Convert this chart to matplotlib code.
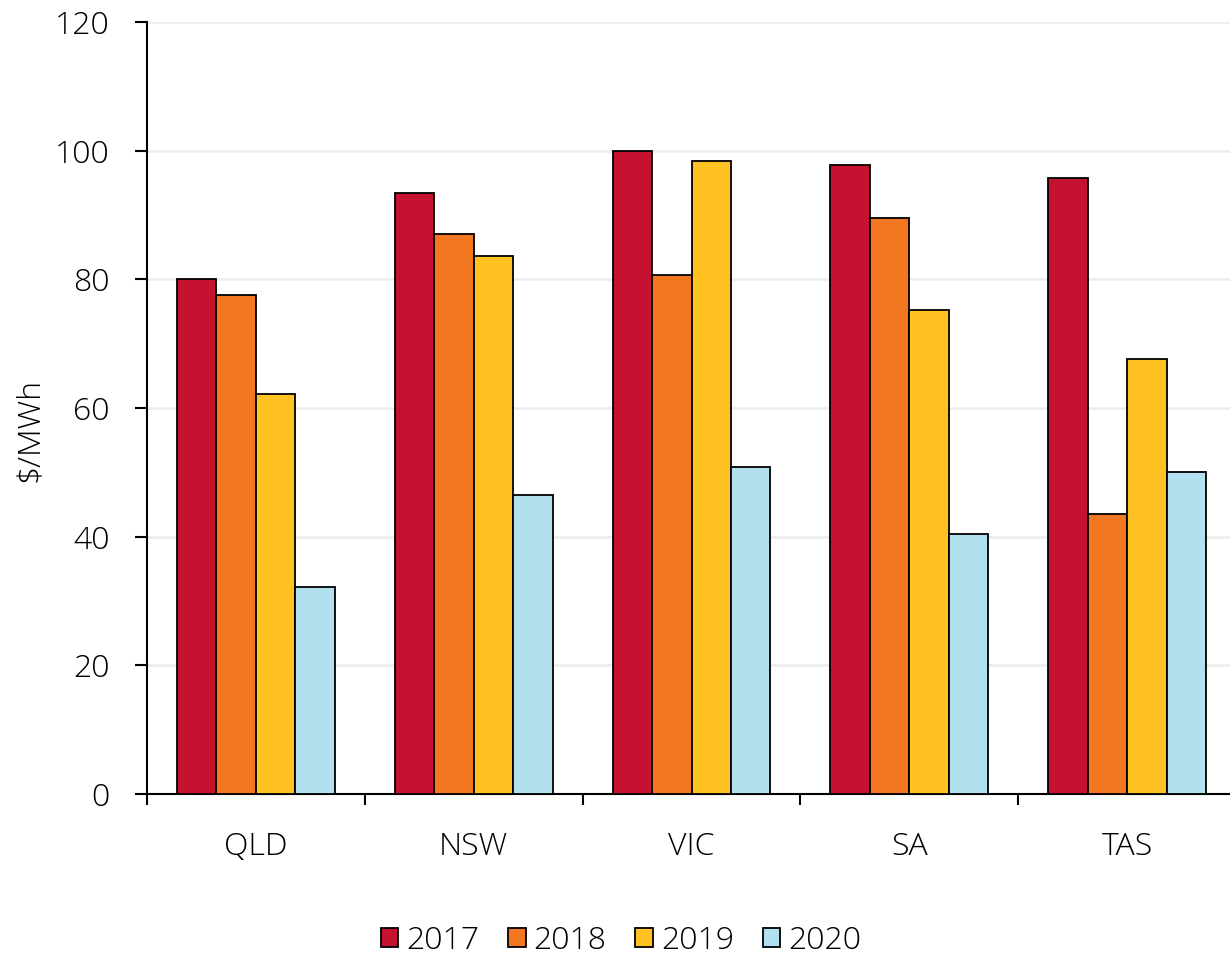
"""grouped bar chart of regional prices by year"""

import numpy as np
import matplotlib
matplotlib.use('Agg')
import matplotlib.pyplot as plt

regions = ['QLD', 'NSW', 'VIC', 'SA', 'TAS']
years = ['2017', '2018', '2019', '2020']
price_2017 = [80.0, 93.5, 100.0, 97.8, 95.8]
price_2018 = [77.5, 87.0, 80.6, 89.5, 43.5]
price_2019 = [62.2, 83.6, 98.4, 75.2, 67.6]
price_2020 = [32.2, 46.5, 50.8, 40.4, 50.1]
colours = ['#C41230', '#F37721', '#FFC222', '#B3E0EE']

plt.rcParams['font.family'] = ['Open Sans', 'DejaVu Sans']
plt.rcParams['font.weight'] = 'light'
plt.rcParams['axes.labelweight'] = 'light'

fig = plt.figure(figsize=(12.3, 9.58), dpi=100)
ax = fig.add_axes([0.1195, 0.1712, 0.8854, 0.8058])

centres = np.arange(len(regions)) + 0.5
width = 0.181
series = [price_2017, price_2018, price_2019, price_2020]
for i, (year, values, colour) in enumerate(zip(years, series, colours)):
    ax.bar(centres + (i - 1.5) * width, values, width, color=colour,
           edgecolor='black', linewidth=1.3, label=year, zorder=3)

ax.set_xlim(0, 5)
ax.set_ylim(0, 120)
ax.set_yticks(np.arange(0, 121, 20))
ax.yaxis.grid(True, color='#ececec', linewidth=1.8, zorder=0)
ax.set_axisbelow(True)

# boundaries get the tick marks, centres get the labels
ax.set_xticks(np.arange(0, 6))
ax.set_xticklabels([])
ax.set_xticks(centres, minor=True)
ax.set_xticklabels(regions, minor=True)
ax.tick_params(axis='x', which='major', length=8, width=1.5, direction='out')
ax.tick_params(axis='x', which='minor', length=0, pad=27, labelsize=23)
ax.tick_params(axis='y', length=9, width=1.5, pad=18, labelsize=23)

for side in ['top', 'right']:
    ax.spines[side].set_visible(False)
ax.spines['left'].set_linewidth(1.5)
ax.spines['bottom'].set_linewidth(1.5)

ax.set_ylabel('$/MWh', fontsize=23, fontweight='light')
ax.yaxis.set_label_coords(-0.093, 0.472)

fig.legend(loc='lower center', bbox_to_anchor=(0.505, -0.029), ncol=4,
           frameon=False, fontsize=23, handlelength=0.55, handleheight=0.55,
           handletextpad=0.25, columnspacing=0.9)

fig.savefig('out.png', dpi=100)
